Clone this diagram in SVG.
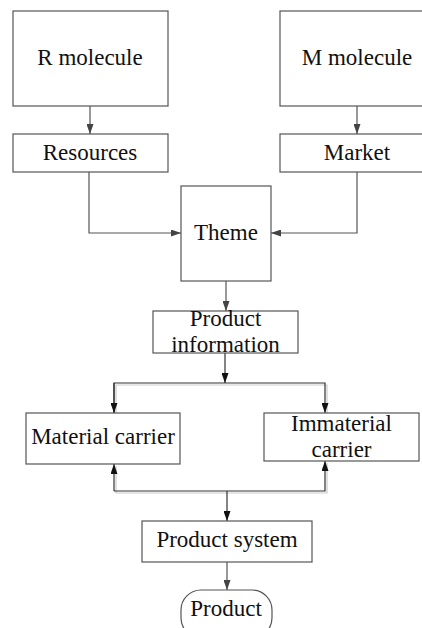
<svg xmlns="http://www.w3.org/2000/svg" width="422" height="628" viewBox="0 0 422 628">
<defs>
<marker id="ah" markerWidth="10" markerHeight="7" refX="10" refY="3.5" orient="auto" markerUnits="userSpaceOnUse">
<path d="M0,0 L10,3.5 L0,7 z" fill="#444"/>
</marker>
<marker id="ahd" markerWidth="10" markerHeight="7" refX="10" refY="3.5" orient="auto" markerUnits="userSpaceOnUse">
<path d="M0,0 L10,3.5 L0,7 z" fill="#111"/>
</marker>
<style>
.box{fill:#fff;stroke:#555;stroke-width:1.2}
.t{font-family:"Liberation Serif","Times New Roman",serif;font-size:23px;fill:#111;text-anchor:middle}
.c{fill:none;stroke:#555;stroke-width:1.2}
.cd{fill:none;stroke:#333;stroke-width:1.2}
.sh{fill:none;stroke:#ccc;stroke-width:1.2}
</style>
</defs>
<rect width="422" height="628" fill="#fff"/>
<g id="connectors">
<line class="c" x1="90" y1="106" x2="90" y2="134" marker-end="url(#ah)"/>
<line class="c" x1="357" y1="106" x2="357" y2="134" marker-end="url(#ah)"/>
<polyline class="c" points="89,172 89,233 181,233" marker-end="url(#ah)"/>
<polyline class="c" points="357,172 357,233 271,233" marker-end="url(#ah)"/>
<line class="c" x1="226" y1="281" x2="226" y2="311" marker-end="url(#ah)"/>
<polyline class="sh" points="116,413 116,385 327,385 327,413"/>
<line class="cd" x1="225" y1="353" x2="225" y2="383" marker-end="url(#ahd)"/>
<polyline class="cd" points="114,413 114,383 325,383 325,413" marker-end="url(#ahd)"/>
<polyline class="cd" points="114,383 114,413" marker-end="url(#ahd)"/>
<polyline class="sh" points="116,466 116,493 327,493 327,463"/>
<polyline class="cd" points="114,491 114,464" marker-end="url(#ahd)"/>
<polyline class="cd" points="114,491 325,491 325,461" marker-end="url(#ahd)"/>
<line class="cd" x1="227" y1="491" x2="227" y2="521" marker-end="url(#ahd)"/>
<line class="c" x1="227" y1="562" x2="227" y2="590" marker-end="url(#ah)"/>
</g>
<g id="r-molecule"><rect class="box" x="13" y="11" width="155" height="95"/><text class="t" x="90" y="65">R molecule</text></g>
<g id="m-molecule"><rect class="box" x="280" y="11" width="155" height="95"/><text class="t" x="357" y="65">M molecule</text></g>
<g id="resources"><rect class="box" x="13" y="134" width="155" height="38"/><text class="t" x="90" y="160">Resources</text></g>
<g id="market"><rect class="box" x="280" y="134" width="155" height="38"/><text class="t" x="357" y="160">Market</text></g>
<g id="theme"><rect class="box" x="181" y="186" width="90" height="95"/><text class="t" x="226" y="240">Theme</text></g>
<g id="product-information"><rect class="box" x="153" y="311" width="145" height="42"/><text class="t" x="225.5" y="326">Product</text><text class="t" x="225.5" y="352">information</text></g>
<g id="material-carrier"><rect class="box" x="26" y="413" width="154" height="51"/><text class="t" x="103" y="444">Material carrier</text></g>
<g id="immaterial-carrier"><rect class="box" x="264" y="413" width="155" height="48"/><text class="t" x="341.5" y="431">Immaterial</text><text class="t" x="341.5" y="457">carrier</text></g>
<g id="product-system"><rect class="box" x="142" y="521" width="170" height="41"/><text class="t" x="227" y="547">Product system</text></g>
<g id="product"><rect class="box" x="181" y="590" width="91" height="48" rx="20" ry="20"/><text class="t" x="226" y="616">Product</text></g>
</svg>
